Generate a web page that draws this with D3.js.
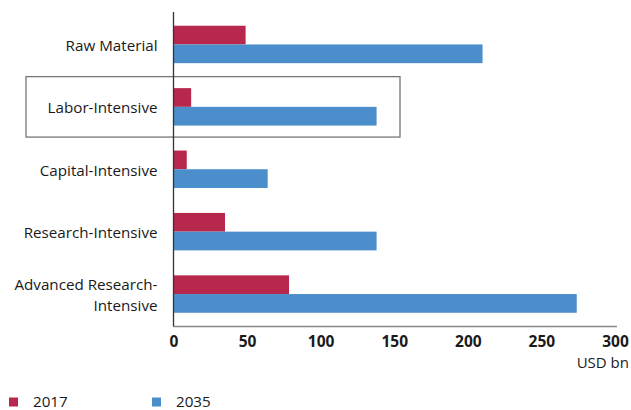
<!DOCTYPE html>
<html>
<head>
<meta charset="utf-8">
<script src="https://cdn.jsdelivr.net/npm/d3@7"></script>
<style>
  body { margin: 0; background: #fff; }
  text { font-family: "Open Sans", "Noto Sans", sans-serif; fill: #1a1a1a; }
</style>
</head>
<body>
<svg id="chart" width="631" height="410"></svg>
<script>
const categories = ["Raw Material", "Labor-Intensive", "Capital-Intensive", "Research-Intensive", "Advanced Research-Intensive"];
const labelLines = [["Raw Material"], ["Labor-Intensive"], ["Capital-Intensive"], ["Research-Intensive"], ["Advanced Research-", "Intensive"]];
const series = ["2017", "2035"];
const values2017 = [49, 12, 9, 35, 78.5];
const values2035 = [210, 138, 64, 138, 274];
const xTicks = [0, 50, 100, 150, 200, 250, 300];
const colors = ["#b7284c", "#4a8ecb"];
const highlighted = "Labor-Intensive";

const svg = d3.select("#chart");
const plotLeft = 173.5, plotRight = 615, plotTop = 12, plotBottom = 326.5;

const x = d3.scaleLinear().domain([0, 300]).range([plotLeft, plotRight]);
const y0 = d3.scaleBand().domain(categories).range([plotTop, plotBottom])
    .paddingInner(0.4).paddingOuter(0.22);
const y1 = d3.scaleBand().domain(series).range([0, y0.bandwidth()]);

const rows = categories.map((c, i) => ({cat: c, vals: [values2017[i], values2035[i]]}));

// highlight box
const hb = y0(highlighted);
svg.append("rect")
    .attr("x", 26).attr("y", hb - 11.5)
    .attr("width", 400 - 26).attr("height", y0.bandwidth() + 23)
    .attr("fill", "none").attr("stroke", "#777").attr("stroke-width", 1.3);

const groups = svg.selectAll(".grp").data(rows).enter().append("g")
    .attr("class", "grp")
    .attr("transform", d => `translate(0,${y0(d.cat)})`);

groups.selectAll("rect").data(d => d.vals.map((v, k) => ({k, v}))).enter()
  .append("rect")
    .attr("x", x(0))
    .attr("y", d => y1(series[d.k]))
    .attr("width", d => x(d.v) - x(0))
    .attr("height", y1.bandwidth())
    .attr("fill", d => colors[d.k]);

// category labels
groups.each(function(d, i) {
    const lines = labelLines[i];
    const cy = y0.bandwidth() / 2 + 1;
    const t = d3.select(this).append("text")
        .attr("text-anchor", "end")
        .attr("font-size", 15.2);
    lines.forEach((ln, j) => {
        t.append("tspan")
            .attr("x", plotLeft - 16)
            .attr("y", cy + (j - (lines.length - 1) / 2) * 20.5)
            .attr("dy", "0.35em")
            .text(ln);
    });
});

// axes
svg.append("line")
    .attr("x1", plotLeft).attr("x2", 617).attr("y1", plotBottom).attr("y2", plotBottom)
    .attr("stroke", "#888").attr("stroke-width", 1.3);
svg.append("line")
    .attr("x1", plotLeft).attr("x2", plotLeft).attr("y1", plotTop).attr("y2", plotBottom)
    .attr("stroke", "#333").attr("stroke-width", 1.3);

const xAxis = svg.append("g")
    .attr("transform", `translate(0,${plotBottom})`)
    .call(d3.axisBottom(x).tickValues(xTicks).tickSize(0).tickPadding(9));
xAxis.select(".domain").remove();
xAxis.selectAll("text")
    .attr("font-size", 15.5).attr("font-weight", "bold")
    .style("font-family", '"Open Sans", sans-serif').attr("fill", "#1a1a1a");

svg.append("text")
    .attr("x", 629).attr("y", 363).attr("dy", "0.35em")
    .attr("text-anchor", "end").attr("font-size", 15)
    .text("USD bn");

// legend
const legend = svg.selectAll(".leg").data(series).enter().append("g")
    .attr("transform", (d, i) => `translate(${9 + i * 143},402)`);
legend.append("rect")
    .attr("x", 0).attr("y", -4.5).attr("width", 9).attr("height", 9)
    .attr("fill", (d, i) => colors[i]);
legend.append("text")
    .attr("x", 24).attr("y", 0).attr("dy", "0.35em")
    .attr("font-size", 15.2)
    .text(d => d);
</script>
</body>
</html>
